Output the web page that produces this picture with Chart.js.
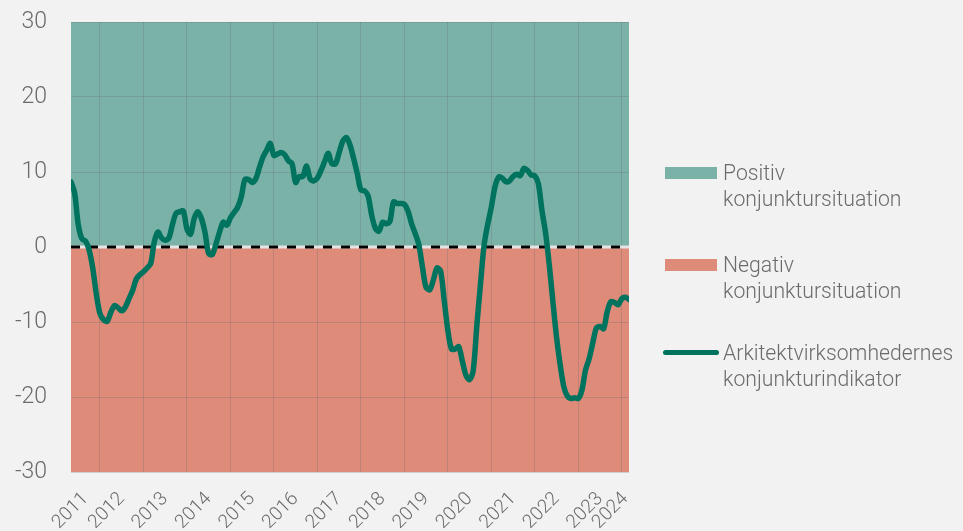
<!DOCTYPE html>
<html>
<head>
<meta charset="utf-8">
<script src="https://cdn.jsdelivr.net/npm/chart.js@4.4.1/dist/chart.umd.min.js"></script>
<style>
    html, body { margin: 0; padding: 0; background: #f2f2f2; }
    .wrap { position: relative; width: 963px; height: 531px; font-family: Roboto, 'Noto Sans', sans-serif; font-weight: 300; color: #6b6b6b; }
    canvas { position: absolute; left: 0; top: 0; }
    .legend-item { position: absolute; left: 663px; font-size: 21.2px; line-height: 25.6px; }
    .legend-item .mark { position: absolute; left: 2px; width: 52px; height: 12px; top: 7px; }
    .legend-item .mark.line { left: 0; width: 56px; height: 5px; top: 10px; border-radius: 3px; }
    .legend-item .txt { margin-left: 60px; white-space: nowrap; }
</style>
</head>
<body>
<div class="wrap">
    <canvas id="chart" width="963" height="531"></canvas>
    <div id="legend"></div>
</div>
<script>
// Månedlige værdier, maj 2011 - marts 2024
const startYear = 2011;
const startMonth = 4; // maj (0 = januar)
const indicator = [
    8.7, 7.2, 3.0, 1.1, 0.8, -0.4, -2.8, -6.3,
    -8.9, -9.7, -9.9, -8.7, -7.8, -8.1, -8.5, -8.0, -6.9, -5.8, -4.3, -3.7,
    -3.3, -2.8, -2.2, 0.7, 2.0, 1.2, 0.9, 1.2, 3.0, 4.5, 4.7, 4.8,
    2.4, 1.7, 3.8, 4.7, 3.8, 1.9, -0.9, -1.0, 0.4, 2.0, 3.3, 2.9,
    3.9, 4.6, 5.3, 6.7, 9.0, 9.0, 8.6, 9.1, 10.6, 12.0, 12.9, 13.8,
    12.2, 12.4, 12.6, 12.3, 11.5, 11.1, 8.6, 9.4, 9.4, 10.8, 9.1, 8.8,
    9.2, 10.2, 11.4, 12.5, 11.1, 11.1, 12.6, 14.1, 14.6, 13.6, 11.8, 9.8,
    7.6, 7.5, 6.8, 4.2, 2.5, 2.1, 3.3, 3.1, 3.4, 6.0, 5.8, 5.8,
    5.7, 4.8, 3.1, 1.8, 0.3, -2.7, -5.4, -5.7, -4.4, -2.8, -3.2, -7.1,
    -11.1, -13.6, -13.6, -13.3, -15.2, -17.1, -17.7, -16.5, -10.5, -5.0, 0.2, 3.0,
    5.3, 8.0, 9.3, 9.2, 8.7, 8.8, 9.4, 9.7, 9.5, 10.5, 10.2, 9.6,
    9.5, 8.4, 4.8, 1.8, -2.4, -7.3, -12.0, -15.7, -18.6, -19.9, -20.2, -20.1,
    -20.2, -19.1, -16.4, -14.9, -12.8, -10.8, -10.6, -10.9, -8.6, -7.3, -7.4, -7.7,
    -6.9, -6.7, -7.0
];
const yearTicks = [2012, 2013, 2014, 2015, 2016, 2017, 2018, 2019, 2020, 2021, 2022, 2023, 2024];
const yearLabels = [2011, 2012, 2013, 2014, 2015, 2016, 2017, 2018, 2019, 2020, 2021, 2022, 2023, 2024];
const yTicks = [-30, -20, -10, 0, 10, 20, 30];
const positiveRange = [0, 30];
const negativeRange = [-30, 0];

const legendItems = [
    { text: ['Positiv', 'konjunktursituation'], color: '#7ab2a8', type: 'box', top: 160 },
    { text: ['Negativ', 'konjunktursituation'], color: '#de8b7a', type: 'box', top: 252 },
    { text: ['Arkitektvirksomhedernes', 'konjunkturindikator'], color: '#00735f', type: 'line', top: 340 }
];

const points = indicator.map((v, i) => ({ x: startYear + (startMonth + i) / 12, y: v }));
const xMin = points[0].x;
const xMax = points[points.length - 1].x;

// midten af hvert synligt år til årstallet
const labelPos = yearLabels.map(y => (Math.max(y, xMin) + Math.min(y + 1, xMax)) / 2);

const bandPlugin = {
    id: 'bands',
    beforeDraw(chart) {
        const { ctx, chartArea, scales } = chart;
        const y = scales.y;
        ctx.save();
        ctx.fillStyle = legendItems[0].color;
        let t = y.getPixelForValue(positiveRange[1]);
        let b = y.getPixelForValue(positiveRange[0]);
        ctx.fillRect(chartArea.left, t, chartArea.right - chartArea.left, b - t);
        ctx.fillStyle = legendItems[1].color;
        t = y.getPixelForValue(negativeRange[1]);
        b = y.getPixelForValue(negativeRange[0]);
        ctx.fillRect(chartArea.left, t, chartArea.right - chartArea.left, b - t);
        ctx.restore();
    }
};

const gridColor = 'rgba(100, 100, 100, 0.25)';

new Chart(document.getElementById('chart'), {
    type: 'line',
    data: {
        datasets: [
            {
                label: 'Arkitektvirksomhedernes konjunkturindikator',
                data: points,
                borderColor: '#00735f',
                borderWidth: 5.5,
                tension: 0.3,
                pointRadius: 0,
                borderCapStyle: 'round',
                borderJoinStyle: 'round',
                fill: false
            },
            {
                label: 'nul-dash',
                data: [{ x: xMin, y: 0 }, { x: xMax, y: 0 }],
                borderColor: '#000000',
                borderWidth: 3,
                borderDash: [9, 9],
                pointRadius: 0,
                fill: false
            },
            {
                label: 'nul',
                data: [{ x: xMin, y: 0 }, { x: xMax, y: 0 }],
                borderColor: '#e4e4e4',
                borderWidth: 3,
                pointRadius: 0,
                fill: false
            }
        ]
    },
    options: {
        responsive: false,
        animation: false,
        devicePixelRatio: 1,
        layout: { padding: { left: 0, top: 22, right: 334, bottom: 0 } },
        plugins: { legend: { display: false }, tooltip: { enabled: false } },
        scales: {
            x: {
                type: 'linear',
                min: xMin,
                max: xMax,
                afterBuildTicks: (scale) => {
                    scale.ticks = yearTicks.map(v => ({ value: v }))
                        .concat(labelPos.map(v => ({ value: v })))
                        .sort((a, b) => a.value - b.value);
                },
                afterFit: (scale) => { scale.height = 59; },
                border: { display: false },
                grid: {
                    drawTicks: false,
                    color: (ctx) => (ctx.tick && Number.isInteger(ctx.tick.value)) ? gridColor : 'rgba(0,0,0,0)'
                },
                ticks: {
                    autoSkip: false,
                    minRotation: 45,
                    maxRotation: 45,
                    padding: 16,
                    color: '#6b6b6b',
                    font: { family: 'Roboto', size: 19, weight: 300 },
                    callback: (value) => Number.isInteger(value) ? '' : String(Math.floor(value))
                }
            },
            y: {
                min: -30,
                max: 30,
                afterBuildTicks: (scale) => { scale.ticks = yTicks.map(v => ({ value: v })); },
                afterFit: (scale) => {
                    scale.width = 71;
                    scale.paddingTop = 0;
                    scale.paddingBottom = 0;
                },
                border: { display: false },
                grid: { drawTicks: false, color: gridColor },
                ticks: {
                    padding: 24,
                    color: '#6b6b6b',
                    font: { family: 'Roboto', size: 23, weight: 300 }
                }
            }
        }
    },
    plugins: [bandPlugin]
});

document.getElementById('legend').innerHTML = legendItems.map(item => `
    <div class="legend-item" style="top:${item.top}px">
        <span class="mark ${item.type === 'line' ? 'line' : ''}" style="background:${item.color}"></span>
        <div class="txt">${item.text.join('<br>')}</div>
    </div>
`).join('');
</script>
</body>
</html>
